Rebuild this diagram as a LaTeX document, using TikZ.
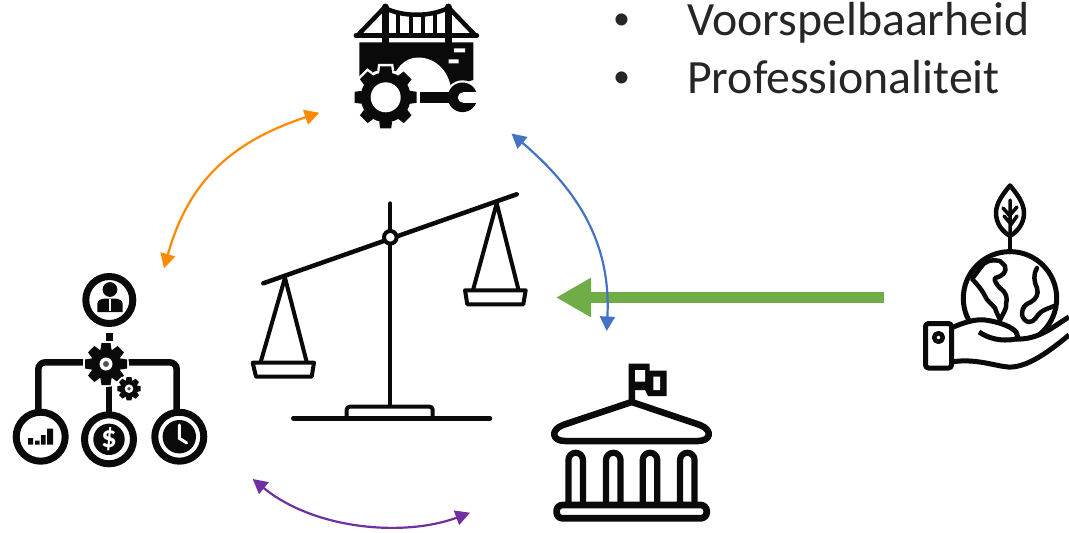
\documentclass[tikz,border=0pt]{standalone}
\usepackage{fontspec}
\setmainfont{Carlito}
\usetikzlibrary{arrows.meta}
\definecolor{icon}{HTML}{0A0A0A}
\definecolor{txt}{HTML}{262626}
\definecolor{corange}{HTML}{FF8A00}
\definecolor{cblue}{HTML}{4472C4}
\definecolor{cpurple}{HTML}{7030A0}
\definecolor{cgreen}{HTML}{70AD47}
\tikzset{
  ln/.style={draw=icon,line width=#1,line join=round,line cap=round},
  ln/.default=4.5pt,
  link/.style={line width=2.2pt,{Triangle[length=14.5pt,width=15pt]}-{Triangle[length=14.5pt,width=15pt]}},
  bigarrow/.style={draw=cgreen,line width=11.5pt,-{Triangle[length=35pt,width=37pt]}},
  label/.style={anchor=base west,inner sep=0pt,font=\fontsize{47.8pt}{56pt}\selectfont,text=txt},
  bullet/.style={anchor=base west,inner sep=0pt,font=\fontsize{34pt}{40pt}\selectfont,text=txt},
}
% #1 colour, #2 x, #3 y, #4 body radius, #5 tooth tip radius, #6 tooth half width, #7 teeth, #8 start angle
\newcommand{\cogwheel}[8]{%
  \begin{scope}[shift={(#2,#3)},rotate=#8]
    \fill[#1] (0,0) circle (#4);
    \pgfmathsetmacro{\cogstep}{360/#7}
    \foreach \k in {1,...,#7}{
      \fill[#1,rotate=\k*\cogstep] (#4-1,-#6-1) -- (#5,-#6) -- (#5,#6) -- (#4-1,#6+1) -- cycle;
    }
  \end{scope}}
\begin{document}
\begin{tikzpicture}[x=1pt,y=-1pt]
\useasboundingbox (0,0) rectangle (1069,533);
% ---- text
\node[label] (t1) at (687,35.5) {Voorspelbaarheid};
\node[label] (t2) at (687,93.5) {Professionaliteit};
\node[bullet] (b1) at (613,29.5) {•};
\node[bullet] (b2) at (613,87.5) {•};
% ---- bridge
\draw[ln=5pt] (356,35.7) -- (476.7,35.7);
\draw[ln=7pt] (385,7) -- (385,44) (448,7) -- (448,44);
\draw[ln=4.5pt] (385,7) -- (358,35) (448,7) -- (475,35);
\draw[ln=4.5pt] (385,8) .. controls (402,17) and (431,17) .. (448,8);
\draw[ln=4.5pt] (398,13) -- (398,35) (411,15) -- (411,35) (423,15) -- (423,35) (435,13) -- (435,35);
\fill[icon] (359.3,42.3) -- (473.3,42.3) -- (473.3,80) -- (451,86) -- (385,80) -- (359.3,76) -- cycle;
\fill[white] (390,88) .. controls (394,68) and (405,57.5) .. (418,57.5) .. controls (435,57.5) and (448,70) .. (451,88) -- cycle;
\fill[white] (454,48.3) rectangle (465,52.3) (448.5,59.3) rectangle (458.5,63.3);
\cogwheel{white}{385.7}{97.3}{28}{33.5}{7.5}{8}{0}
\cogwheel{icon}{385.7}{97.3}{25}{31}{5.5}{8}{0}
\fill[white] (385.7,97.3) circle (15);
\fill[white] (462.5,97.3) circle (17);
\fill[white] (418,89.5) rectangle (455,105.5);
\fill[icon] (420,91.7) rectangle (455,103.3);
\fill[icon] (462.5,97.3) circle (14.8);
\fill[white] (463,97.5) circle (5.2);
\fill[white] (463,92.3) rectangle (480,102.7);
% ---- scale
\draw[ln] (263.3,283.3) -- (516.7,194.3);
\draw[ln=4pt] (390.3,203.3) -- (390.3,405);
\draw[ln=4pt,fill=white] (390.3,237.3) circle (6.3);
\draw[ln=4pt] (260.7,362) -- (285,277.7) -- (306.7,362);
\draw[ln=4pt,fill=white] (252.7,362.7) -- (314,362.7) -- (311.7,376.7) -- (256,376.7) -- cycle;
\draw[ln=4pt] (473.3,289) -- (496.7,203.3) -- (518.3,289);
\draw[ln=4pt,fill=white] (465,290.3) -- (525.7,290.3) -- (523.3,304.3) -- (467.3,304.3) -- cycle;
\draw[ln=4pt,rounded corners=3pt,fill=white] (346.7,418.3) -- (346.7,406.7) -- (432.7,406.7) -- (432.7,418.3);
\draw[ln] (293.3,418.3) -- (490,418.3);
% ---- organisation chart
\draw[ln=7pt] (109.3,300) circle (23.5);
\fill[icon] (110,289.5) circle (7.4);
\fill[icon] (97.3,312) -- (97.3,304) .. controls (97.3,300) and (101,299) .. (105,298.5) -- (115,298.5) .. controls (119,299) and (122.7,300) .. (122.7,304) -- (122.7,312) -- cycle;
\fill[white] (108.8,299) rectangle (110.8,311);
\fill[icon] (105.7,332.7) rectangle (113.3,341);
\draw[ln=6.5pt,line cap=butt,rounded corners=7pt] (83,362.3) -- (38.3,362.3) -- (38.3,412);
\draw[ln=6.5pt,line cap=butt,rounded corners=7pt] (128,362.3) -- (176.7,362.3) -- (176.7,412);
\draw[ln=6.5pt,line cap=butt] (109,386) -- (109,414);
\fill[white] (106,364) circle (23);
\cogwheel{icon}{106}{364}{15.5}{21}{4.5}{8}{0}
\fill[white] (106,364) circle (6.5);
\fill[icon!70] (106,364) circle (3);
\cogwheel{white}{129}{388.7}{10}{13.7}{3.5}{8}{0}
\cogwheel{icon}{129}{388.7}{8.3}{11.7}{2.4}{8}{0}
\fill[white] (129,388.7) circle (4.3);
\fill[icon!70] (129,388.7) circle (1.8);
\draw[ln=7pt,fill=white] (40.7,436.7) circle (24.5);
\fill[icon] (28,438) rectangle (33,444.5) (35,440.5) rectangle (39.5,444.5) (41,435) rectangle (45.5,444.5) (47,428.5) rectangle (53,444.5);
\draw[ln=7pt,fill=white] (109,439.3) circle (24.5);
\fill[icon] (109,439.3) circle (15.7);
\node[inner sep=0pt,text=white,font=\fontsize{31pt}{31pt}\selectfont\bfseries] (dollar) at (109,439.3) {\$};
\draw[ln=7pt,fill=white] (179.3,436.7) circle (24.5);
\fill[icon] (179.3,436.7) circle (16.7);
\draw[ln=3pt,draw=white,line join=miter] (179.3,425) -- (179.3,438.3) -- (186.7,443);
% ---- earth in hand
\draw[ln=5pt] (1010,298.3) circle (46.7);
\draw[ln=4.5pt] (1010,236) -- (1010,252);
\draw[ln=4.5pt,line join=round] (1010,185.5) .. controls (1003,194) and (996,203) .. (996,213) .. controls (996,224) and (1003,232) .. (1010,236) .. controls (1017,232) and (1024,224) .. (1024,213) .. controls (1024,203) and (1017,194) .. (1010,185.5) -- cycle;
\draw[ln=3.5pt] (1010,200) -- (1010,235) (1003,208) -- (1010,216) (1017,207) -- (1010,215) (1004,216) -- (1010,223) (1017,216) -- (1010,226);
\draw[ln=4.5pt] (1000,261) .. controls (990,259) and (984,262) .. (981,267) .. controls (978,271) and (975,275) .. (972,279) .. controls (978,285) and (982,290) .. (985,296) .. controls (987,301) and (991,303) .. (995,308) .. controls (996,312) and (999,317) .. (1000,320) .. controls (1004,312) and (1007,308) .. (1006,304) .. controls (1008,298) and (1006,292) .. (1000,288) .. controls (996,284) and (994,280) .. (995,278) .. controls (1003,276) and (1007,272) .. (1005,266) -- (1000,261);
\draw[ln=4.5pt] (1037,268) .. controls (1033,274) and (1034,282) .. (1037,288) .. controls (1039,294) and (1036,299) .. (1031,302) .. controls (1025,304) and (1022,308) .. (1022,314) .. controls (1022,318) and (1026,322) .. (1029,322) .. controls (1035,322) and (1036,316) .. (1041,312) .. controls (1045,309) and (1050,308) .. (1054,306);
\fill[white] (951,328) .. controls (965,322) and (975,319) .. (985,320) .. controls (1000,322) and (1012,327) .. (1016,332) .. controls (1018,338) and (1017,338) .. (1016,339) .. controls (1040,340) and (1055,325) .. (1069,317) -- (1069,335) .. controls (1045,355) and (1025,368) .. (1008,367) .. controls (995,366) and (975,358) .. (951,362) -- cycle;
\draw[ln=5pt,line cap=butt,line join=round] (951,328) .. controls (965,322) and (975,319) .. (985,320) .. controls (1000,322) and (1012,327) .. (1016,332) .. controls (1018,336) and (1018,338) .. (1016,339) .. controls (1000,342) and (988,338) .. (979,332);
\draw[ln=5pt,line cap=butt] (1016,339) .. controls (1040,340) and (1055,325) .. (1069,317);
\draw[ln=5pt,line cap=butt] (951,362) .. controls (975,358) and (995,366) .. (1008,367) .. controls (1025,368) and (1045,355) .. (1069,335);
\draw[ln=5pt,fill=white,rounded corners=3pt] (925.5,323.5) rectangle (951.5,368);
\draw[ln=4.5pt] (938.5,337.5) circle (4.3);
% ---- government building
\fill[icon] (628.5,363.5) -- (649.5,363.5) -- (649.5,370.5) -- (666.7,370.5) -- (666.7,396) -- (648,396) -- (645,390) -- (635,390) -- (635,402) -- (628.5,402) -- cycle;
\fill[white] (635,370) rectangle (645,381.7) (653.3,376.7) rectangle (660,390);
\draw[ln=6.5pt] (631.7,402) -- (563,425) .. controls (550,430) and (552,441) .. (565,441) -- (698,441) .. controls (711,441) and (713,430) .. (700,425) -- cycle;
\foreach \cx in {575.7,613.3,650,687.3}{
  \draw[ln=6.2pt,line cap=butt] (\cx-7.25,505) -- (\cx-7.25,460) arc[start angle=180,end angle=360,radius=7.25] -- (\cx+7.25,505);
}
\draw[ln=6.7pt,rounded corners=6pt] (556.6,505) rectangle (706.7,518.3);
% ---- connectors
\coordinate (ornA) at (319.3,112.7);
\coordinate (ornB) at (164,268.3);
\coordinate (bluA) at (511.5,133.5);
\coordinate (bluB) at (606.7,331);
\coordinate (purA) at (252.7,479);
\coordinate (purB) at (470,512.7);
\coordinate (grnA) at (884,297.5);
\coordinate (grnB) at (556,297.5);
\draw[link,color=corange] (ornA) .. controls (234,141) and (189,179) .. (ornB);
\draw[bigarrow] (grnA) -- (grnB);
\draw[link,color=cblue] (bluA) .. controls (580,192) and (611,245) .. (bluB);
\draw[link,color=cpurple] (purA) .. controls (315,530) and (405,537) .. (purB);
\end{tikzpicture}
\end{document}
